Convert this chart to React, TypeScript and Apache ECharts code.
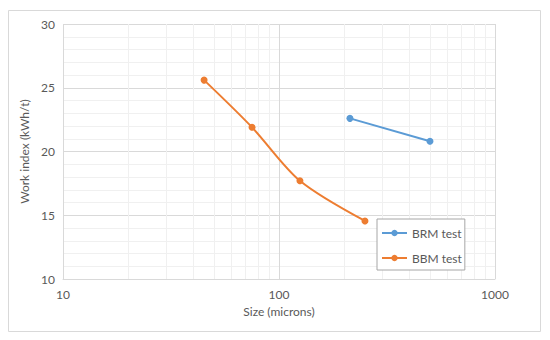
import React, { useEffect, useRef } from "react";
import * as echarts from "echarts";

const brmSize = [213, 500];
const brmWork = [22.6, 20.8];
const bbmSize = [45, 75, 125, 250];
const bbmWork = [25.6, 21.9, 17.7, 14.55];
const minorXTicks = [20, 30, 40, 50, 60, 70, 80, 90, 200, 300, 400, 500, 600, 700, 800, 900];

const TEXT = "#595959";
const FONT = "Lato";

export default function App() {
  const ref = useRef<HTMLDivElement>(null);
  useEffect(() => {
    const chart = echarts.init(ref.current!, null, { renderer: "svg" });
    chart.setOption({
      animation: false,
      backgroundColor: "#ffffff",
      textStyle: { fontFamily: FONT, color: TEXT },
      graphic: [
        {
          type: "rect",
          shape: { x: 8.5, y: 10.5, width: 532, height: 321 },
          style: { fill: "none", stroke: "#d9d9d9", lineWidth: 1 },
          silent: true,
        },
      ],
      grid: { left: 63, right: 55, top: 24, bottom: 61, containLabel: false },
      legend: {
        data: ["BRM test", "BBM test"],
        orient: "vertical",
        left: 377,
        top: 219,
        itemWidth: 25,
        itemHeight: 8,
        itemGap: 13,
        padding: [8, 3, 6, 4],
        backgroundColor: "#ffffff",
        borderColor: "#a6a6a6",
        borderWidth: 1,
        textStyle: { fontFamily: FONT, fontSize: 12, color: TEXT },
      },
      xAxis: {
        type: "log",
        logBase: 10,
        min: 10,
        max: 1000,
        name: "Size (microns)",
        nameLocation: "middle",
        nameGap: 26,
        nameTextStyle: { fontFamily: FONT, fontSize: 12, color: TEXT },
        axisLine: { show: true, lineStyle: { color: "#d9d9d9" } },
        axisTick: { show: false },
        axisLabel: {
          fontFamily: FONT,
          fontSize: 12,
          color: TEXT,
          margin: 9,
          formatter: (v: number) => String(Math.round(v)),
        },
        splitLine: { show: true, lineStyle: { color: "#d9d9d9", width: 1 } },
      },
      yAxis: {
        type: "value",
        min: 10,
        max: 30,
        interval: 5,
        name: "Work index (kWh/t)",
        nameLocation: "middle",
        nameGap: 25,
        nameTextStyle: { fontFamily: FONT, fontSize: 12, color: TEXT },
        axisLine: { show: false },
        axisTick: { show: false },
        axisLabel: { fontFamily: FONT, fontSize: 12, color: TEXT, margin: 8 },
        splitLine: { show: true, lineStyle: { color: "#d9d9d9", width: 1 } },
        minorTick: { show: false, splitNumber: 5 },
        minorSplitLine: { show: true, lineStyle: { color: "#f0f0f0", width: 1 } },
      },
      series: [
        {
          name: "minor",
          type: "line",
          data: [],
          z: 1,
          silent: true,
          markLine: {
            z: 1,
            silent: true,
            symbol: ["none", "none"],
            label: { show: false },
            lineStyle: { color: "#f0f0f0", width: 1, type: "solid" },
            emphasis: { disabled: true },
            data: minorXTicks.map((v) => ({ xAxis: v })),
          },
        },
        {
          name: "BRM test",
          type: "line",
          data: brmSize.map((s, i) => [s, brmWork[i]]),
          smooth: 0.3,
          symbol: "circle",
          symbolSize: 7,
          z: 3,
          itemStyle: { color: "#5B9BD5" },
          lineStyle: { color: "#5B9BD5", width: 2 },
        },
        {
          name: "BBM test",
          type: "line",
          data: bbmSize.map((s, i) => [s, bbmWork[i]]),
          smooth: 0.3,
          symbol: "circle",
          symbolSize: 7,
          z: 3,
          itemStyle: { color: "#ED7D31" },
          lineStyle: { color: "#ED7D31", width: 2 },
        },
      ],
    });
    return () => chart.dispose();
  }, []);
  return (
    <div
      ref={ref}
      style={{ position: "fixed", left: 0, top: 0, width: 550, height: 340 }}
    />
  );
}
